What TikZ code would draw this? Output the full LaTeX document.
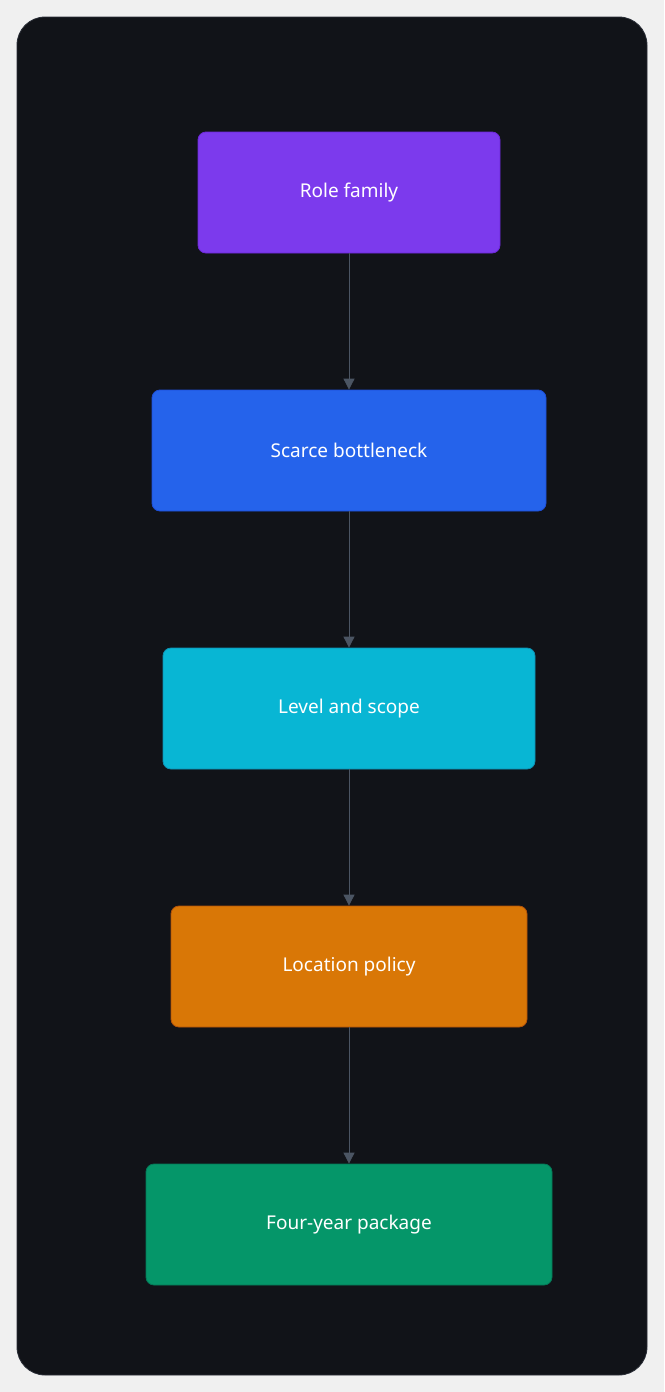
\documentclass[tikz,border=0pt]{standalone}
\usepackage{fontspec}
\setmainfont{Noto Sans}
\usetikzlibrary{arrows.meta}
\definecolor{panel}{HTML}{111318}
\definecolor{panelline}{HTML}{2B2F38}
\definecolor{edge}{HTML}{4B5563}
\begin{document}
\begin{tikzpicture}[x=1pt,y=-1pt,
box/.style={rounded corners=8pt, thick, minimum height=121pt, text=white, font=\fontsize{19}{22}\selectfont},
lE/.style={edge, thick, -{Triangle[length=11pt,width=11pt]}}]
%
\fill[white!94!black] (0,0) rectangle (664,1392);
\filldraw[fill=panel, draw=panelline, thick, rounded corners=28pt] (17,17) rectangle (647,1375);

\node[box, fill=violet!80!blue, fill={rgb,255:red,124;green,58;blue,237}, draw={rgb,255:red,109;green,40;blue,217}, minimum width=302pt] at (349,192.5) (role) {Role family};
\node[box, fill={rgb,255:red,37;green,99;blue,235}, draw={rgb,255:red,29;green,78;blue,216}, minimum width=394pt] at (349,450.5) (scarce) {Scarce bottleneck};
\node[box, fill={rgb,255:red,8;green,182;blue,212}, draw={rgb,255:red,14;green,145;blue,178}, minimum width=372pt] at (349,708.5) (level) {Level and scope};
\node[box, fill={rgb,255:red,217;green,119;blue,6}, draw={rgb,255:red,180;green,83;blue,9}, minimum width=356pt] at (349,966.5) (loc) {Location policy};
\node[box, fill={rgb,255:red,5;green,150;blue,105}, draw={rgb,255:red,4;green,120;blue,87}, minimum width=406pt] at (349,1224.5) (pkg) {Four-year package};

\draw[lE] (role) -- (scarce);
\draw[lE] (scarce) -- (level);
\draw[lE] (level) -- (loc);
\draw[lE] (loc) -- (pkg);
\end{tikzpicture}
\end{document}
